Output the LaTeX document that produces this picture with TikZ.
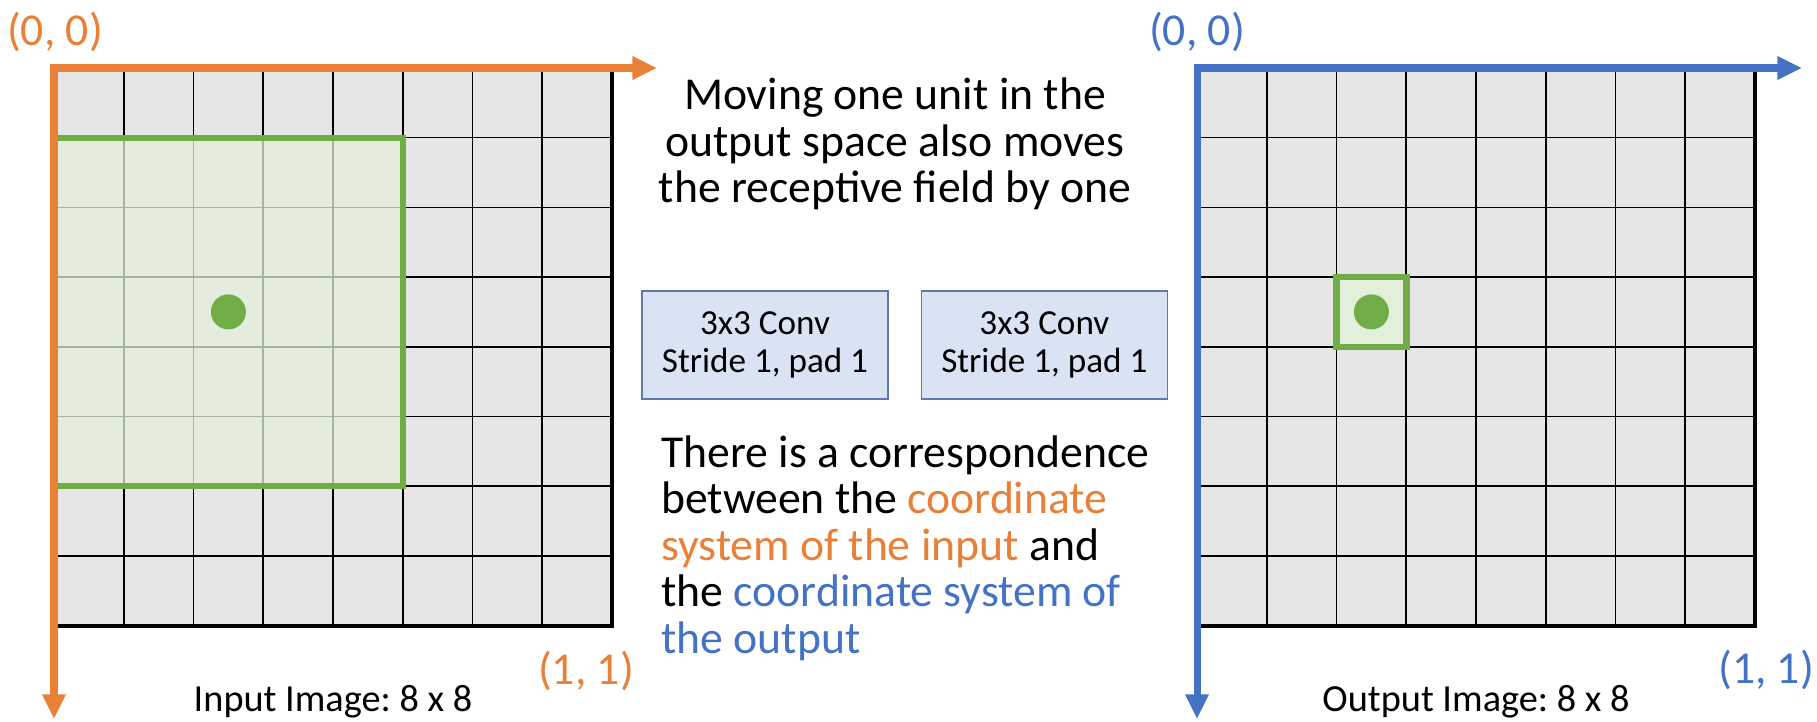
\documentclass[tikz,border=0pt]{standalone}
\usepackage{fontspec}
\setmainfont{Carlito}
\frenchspacing
\usetikzlibrary{arrows.meta,positioning}
\definecolor{axisOrange}{RGB}{232,128,55}
\definecolor{axisBlue}{RGB}{68,114,196}
\definecolor{fieldGreen}{RGB}{112,173,71}
\definecolor{fieldFill}{RGB}{226,239,218}
\definecolor{cellGray}{RGB}{230,230,230}
\definecolor{convFill}{RGB}{218,227,243}
\definecolor{convBorder}{RGB}{95,120,176}

\begin{document}
\begin{tikzpicture}[x=0.02cm, y=-0.02cm,
    axis/.style={line width=4pt, line cap=rect, -{Triangle[length=14pt, width=12.5pt]}},
    gridline/.style={line width=0.9pt, black},
    convbox/.style={draw=convBorder, fill=convFill, line width=0.8pt, minimum width=4.92cm, minimum height=2.16cm, align=center, inner sep=0pt, font=\fontsize{20}{21.6}\selectfont},
    coordlabel/.style={inner sep=0pt, font=\fontsize{26}{28}\selectfont},
    caption/.style={inner sep=0pt, font=\fontsize{21.8}{24}\selectfont}]
  \useasboundingbox (0,0) rectangle (1817,721);

  % input image, 8 x 8
  \fill[cellGray] (54,68) rectangle (612,626);
  \foreach \i in {1,...,7} {
    \draw[gridline] (54+\i*69.75,68) -- (54+\i*69.75,626);
    \draw[gridline] (54,68+\i*69.7) -- (612,68+\i*69.7);
  }
  \draw[line width=2pt] (612,68) -- (612,626) -- (54,626);
  \fill[fieldFill, fill opacity=0.75] (54,137.7) rectangle (402.75,486.2);
  \draw[fieldGreen, line width=3.3pt] (54,137.7) rectangle (402.75,486.2);
  \node[circle, fill=fieldGreen, minimum size=0.7cm, inner sep=0pt] (inDot) at (228.4,311.9) {};

  % output image, 8 x 8
  \fill[cellGray] (1197,68) rectangle (1755,626);
  \foreach \i in {1,...,7} {
    \draw[gridline] (1197+\i*69.75,68) -- (1197+\i*69.75,626);
    \draw[gridline] (1197,68+\i*69.7) -- (1755,68+\i*69.7);
  }
  \draw[line width=2pt] (1755,68) -- (1755,626) -- (1197,626);
  \draw[fieldGreen, fill=fieldFill, line width=3.7pt] (1336.5,277.1) rectangle (1406.25,346.8);
  \node[circle, fill=fieldGreen, minimum size=0.7cm, inner sep=0pt] (outDot) at (1371.4,311.9) {};

  % axes
  \coordinate (inO) at (54,68);
  \coordinate (inX) at (657,68);
  \coordinate (inY) at (54,719);
  \coordinate (outO) at (1197,68);
  \coordinate (outX) at (1802,68);
  \coordinate (outY) at (1197,719);
  \draw[axis, axisOrange] (inO) -- (inX);
  \draw[axis, axisOrange] (inO) -- (inY);
  \draw[axis, axisBlue] (outO) -- (outX);
  \draw[axis, axisBlue] (outO) -- (outY);

  \node[coordlabel, text=axisOrange] (inStart) at (55,32) {(0, 0)};
  \node[coordlabel, text=axisOrange] (inEnd) at (586,671) {(1, 1)};
  \node[coordlabel, text=axisBlue] (outStart) at (1197,32) {(0, 0)};
  \node[coordlabel, text=axisBlue] (outEnd) at (1766,670) {(1, 1)};

  \node[caption] (inCaption) at (333,702) {Input Image: 8 x 8};
  \node[caption] (outCaption) at (1476,702) {Output Image: 8 x 8};

  % middle column
  \node[align=center, inner sep=0pt, font=\fontsize{26}{26.5}\selectfont] (moveNote) at (895,144) {Moving one unit in the\\output space also moves\\the receptive field by one};

  \node[convbox] (convA) at (765,345) {3x3 Conv\\Stride 1, pad 1};
  \node[convbox, right=0.64cm of convA] (convB) {3x3 Conv\\Stride 1, pad 1};

  \node[align=left, anchor=west, inner sep=0pt, font=\fontsize{26}{26.5}\selectfont] (corrNote) at (661,548) {There is a correspondence\\between the \textcolor{axisOrange}{coordinate}\\\textcolor{axisOrange}{system of the input} and\\the \textcolor{axisBlue}{coordinate system of}\\\textcolor{axisBlue}{the output}};
\end{tikzpicture}
\end{document}
